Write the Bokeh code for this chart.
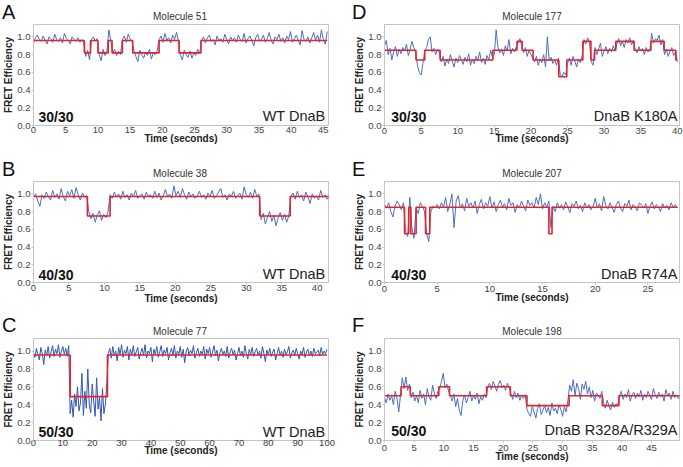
import numpy as np
from bokeh.plotting import figure
from bokeh.layouts import column, row
from bokeh.models import Label, FixedTicker, Range1d, PrintfTickFormatter
from bokeh.embed import file_html
from bokeh.resources import INLINE

# ---------------- data ----------------
y_ticks = [0.0, 0.2, 0.4, 0.6, 0.8, 1.0]

# Panel A  (Molecule 51, WT DnaB, 30/30)
a_dt = 0.3
a_fret = [.93,.99,1.02,.97,.95,1.01,.96,.92,1.0,.98,.94,1.03,.97,.95,.99,.93,1.04,.98,.96,.92,1.0,.97,.95,.99,.94,.97,.93,
          .78,.85,.74,
          .97,1.0,.95,.98,
          .80,.73,.86,.79,.84,
          1.08,.96,
          .82,.86,.79,.84,.80,
          .97,1.01,.94,1.03,.98,.95,
          .84,.78,.72,.85,.80,.76,.83,.79,.86,.75,.82,.80,.84,
          .97,1.01,.94,1.04,.96,.99,.93,1.02,.97,1.05,.95,
          .79,.74,.85,.80,.77,.84,.76,.82,.79,.86,.81,
          .96,1.0,.93,.99,1.02,.95,.97,.91,1.01,.96,.98,.94,1.03,.97,.92,1.0,.96,.99,.94,1.02,.97,.95,1.04,.93,
          .98,1.01,.96,.90,.99,1.03,.95,.97,1.02,.94,.98,1.05,.96,.92,1.0,.97,1.03,.95,.99,.93,1.01,.97,1.06,.94,
          .98,1.02,.96,.91,1.07,.97,.95,1.0,.93,.99,1.05,.96,1.02,.94,1.08,.97,.92,1.06]
a_step_t = [0, 7.9, 8.85, 10.0, 11.6, 12.2, 13.8, 15.4, 19.5, 22.6, 26.0, 45.6]
a_step_v = [.96, .82, .96, .82, .96, .82, .96, .82, .96, .82, .96]
a_xticks = [0, 5, 10, 15, 20, 25, 30, 35, 40, 45]

# Panel B  (Molecule 38, WT DnaB, 40/30)
b_dt = 0.3
b_fret = [.97,1.0,.92,.86,.99,.95,1.02,.97,.93,1.04,.96,1.0,.94,1.06,.97,.92,1.03,.98,1.05,.95,1.07,.99,.93,1.01,.96,.98,
          .80,.72,.78,.68,.76,.81,.70,.77,.73,.79,
          .99,.95,1.02,.97,1.0,.94,1.03,.96,.99,.93,1.01,.97,1.04,.95,.98,1.0,.94,1.02,.97,.99,
          .95,1.03,.96,1.01,.93,.98,1.05,.97,1.0,.95,1.09,.98,1.03,.96,1.06,.99,.94,1.02,.97,1.0,
          .95,.98,1.03,.96,.99,.94,1.01,.97,1.04,.95,.98,1.02,1.06,.96,.99,.93,1.0,.97,1.03,.95,
          .98,1.01,.94,1.08,.99,.96,1.02,.95,1.05,.97,1.0,
          .71,.78,.66,.74,.80,.69,.76,.64,.73,.79,.70,.77,.68,.75,
          .97,1.01,.94,1.03,.96,.99,.92,1.02,.97,.89,1.0,.95,.98,.93,1.04,.96,.99,.94,.97]
b_step_t = [0, 7.6, 10.8, 31.9, 36.2, 41.7]
b_step_v = [.97, .75, .97, .75, .97]
b_xticks = [0, 5, 10, 15, 20, 25, 30, 35, 40]

# Panel C  (Molecule 77, WT DnaB, 50/30)
c_dt = 0.5
c_fret = [.98,.93,1.03,.96,.90,1.04,.97,.85,1.01,.95,1.05,.92,.99,1.06,.94,1.02,.97,1.07,.93,1.0,1.05,.96,1.03,.94,1.06,
          .30,.45,.26,.52,.38,.60,.33,.42,.75,.28,.55,.36,.80,.40,.31,.63,.44,.27,.70,.35,.48,.22,.58,.30,.41,.65,
          .97,1.03,.92,1.05,.95,1.0,.89,1.04,.96,1.07,.93,1.01,.97,1.05,.90,1.02,.96,1.06,.94,.99,
          1.04,.91,.98,1.03,.95,1.07,.92,1.0,.97,1.04,.88,1.02,.96,1.05,.93,.99,1.06,.94,1.01,.97,
          1.04,.90,.98,1.03,.95,1.06,.92,1.0,.96,1.05,.93,1.02,.87,.99,1.04,.95,1.01,.97,1.06,.92,
          .98,1.03,.94,1.0,.96,1.05,.91,1.02,.97,1.04,.93,.99,1.06,.95,1.01,.89,.98,1.03,.96,1.0,
          .94,1.05,.92,.99,1.03,.96,1.01,.90,.97,1.04,.95,1.0,.93,1.06,.97,.91,1.02,.96,1.04,.94,
          .99,1.03,.95,1.0,.92,1.05,.97,.88,1.01,.96,1.03,.94,.99,1.02,.90,.97,1.04,.95,1.0,.93,
          1.02,.96,.99,1.05,.92,.98,1.01,.95,1.03,.97,.91,1.0,.96,1.04,.93,.99,1.02,.95,1.0,.94,
          1.03,.97,.99,1.01,.95,1.04,.96,1.0,.97,1.02]
c_step_t = [0, 12.5, 25.2, 100.0]
c_step_v = [.955, .49, .955]
c_xticks = [0, 10, 20, 30, 40, 50, 60, 70, 80, 90, 100]

# Panel D  (Molecule 177, DnaB K180A, 30/30)
d_dt = 0.25
d_fret = [.90,.96,.80,.87,.74,.83,.89,.78,.86,.81,.88,.84,.92,.79,.86,.95,.88,.82,
          .68,.60,.57,.70,
          .84,.88,.97,1.0,.83,.87,.80,.86,.82,
          .72,.78,.67,.75,.70,.80,.73,.66,.76,.71,.79,.74,.69,.77,.72,.81,.68,.75,.70,.78,.73,.83,.71,.76,.69,.79,.74,.85,.77,
          .80,1.08,.88,.82,.86,.79,.90,.84,.97,.81,.87,.83,.89,
          .93,.98,.90,
          .82,.88,.78,.85,.80,.76,
          .72,.78,.68,.75,.71,.80,.66,1.0,.73,.77,.70,.74,.68,.76,
          .58,.55,.60,.57,
          .70,.76,.68,.78,.73,.66,.75,.71,.79,
          .97,.92,.99,.94,
          .72,.68,
          .88,.80,.86,.93,.78,.84,.89,.81,.87,.83,.90,.85,
          .92,.98,.90,.95,.88,.97,.93,.99,.91,.96,
          .86,.82,.89,.84,.87,.80,.88,.83,.85,
          1.04,.93,.98,.96,1.02,.91,.97,
          .80,.86,.78,.84,.88,.79,.83,
          .72]
d_step_t = [0, 4.3, 5.5, 7.6, 14.8, 18.1, 18.8, 20.3, 23.8, 24.9, 27.1, 28.2, 28.7, 31.6, 34.1, 36.4, 38.2, 39.8, 40.0]
d_step_v = [.85, .74, .85, .74, .85, .95, .85, .74, .55, .74, .95, .74, .85, .95, .85, .95, .85, .74]
d_xticks = [0, 5, 10, 15, 20, 25, 30, 35, 40]

# Panel E  (Molecule 207, DnaB R74A, 40/30)
e_dt = 0.2
e_fret = [.88,.84,.90,.80,.74,.86,.92,.88,.82,.90,
          .58,.52,
          .96,
          .62,.50,
          .84,.78,.90,.86,.80,
          .55,.46,
          .80,.86,.84,.88,.83,.90,.85,.96,.80,.88,1.0,.62,.92,.98,.84,.89,.81,.95,.86,.90,
          .84,.92,.78,.88,.94,.83,.90,.86,.97,.84,.91,.80,.88,.93,.85,.89,.82,.95,.87,.90,
          .79,.88,.84,.92,.86,.81,.93,.87,.90,.84,.96,.88,1.0,.83,.90,.85,.92,
          .62,
          .86,.80,.90,.84,.88,.82,.91,.85,.79,.89,.86,.92,.83,.87,.80,.90,.84,.88,.82,.86,
          .95,.84,.89,.81,.97,.87,.83,.90,.85,.79,.88,.92,.84,.80,.89,.86,.93,.82,.88,.85,
          .81,.90,.87,.84,.89,.78,.86,.91,.83,.88,.85,.80,.89,.84,.87,.82,.90,.85,.88,.84]
e_step_t = [0, 1.9, 2.3, 2.5, 3.0, 3.9, 4.3, 15.6, 15.9, 27.8]
e_step_v = [.85, .55, .85, .55, .85, .55, .85, .55, .85]
e_xticks = [0, 5, 10, 15, 20, 25]

# Panel F  (Molecule 198, DnaB R328A/R329A, 50/30)
f_dt = 0.3
f_fret = [.48,.42,.52,.45,.50,.40,.55,.47,.32,.51,
          .70,.58,.71,.56,.63,
          .48,.54,.44,.50,.42,.56,.47,.52,.40,.58,.49,.45,.62,.53,.47,.55,
          .58,.66,.75,.59,.63,.55,
          .50,.44,.52,.38,.47,.34,.28,.45,.51,.42,.48,.55,.44,.50,.46,.53,.41,.49,.45,.52,.48,
          .60,.64,.57,.66,.61,.55,.63,.67,.59,.62,.56,.64,.60,
          .52,.46,.55,.48,.53,.45,.50,.47,.51,
          .35,.30,.27,.38,.32,.25,.36,.41,.29,.34,.39,.31,.37,.28,.42,.33,.36,.30,.40,.35,.27,.38,.32,.45,
          .62,.55,.68,.50,.64,.58,.46,.63,.57,.66,.52,.60,.48,.56,.44,.53,.50,.47,.55,
          .42,.36,.45,.39,.34,.43,.37,.41,.40,
          .50,.55,.46,.52,.48,.57,.44,.51,.54,.47,.53,.49,.56,.45,.52,.48,.55,.50,.46,.58,
          .51,.47,.54,.49,.52,.44,.57,.50,.53,.46,.55,.48,.51,.47,.50]
f_step_t = [0, 2.8, 4.35, 9.15, 10.96, 17.2, 21.2, 24.0, 31.1, 36.7, 39.5, 49.8]
f_step_v = [.5, .6, .5, .6, .5, .6, .5, .39, .5, .39, .5]
f_xticks = [0, 5, 10, 15, 20, 25, 30, 35, 40, 45]

# ---------------- styling / layout ----------------
FONT = "Liberation Sans"
BLUE = "#4a6fc4"
RED = "#e4232c"
GRAY = "#c4c4c4"
W_TOTAL = 683

COLS = {
    "L": dict(width=342, bl=31, br=14, name_dx=5),
    "R": dict(width=341, bl=42, br=4, name_dx=2),
}
ROWS = {
    1: dict(height=134, bt=1, bb=32),
    2: dict(height=132, bt=1, bb=30),
    3: dict(height=130, bt=1, bb=27),
}


def panel(fret, dt, step_t, step_v, xmax, xticks, ratio, name, col, rw,
          lab_so, axlab_so, txt_dx, txt_y, color=BLUE):
    c = COLS[col]
    r = ROWS[rw]
    fw = c["width"] - c["bl"] - c["br"]
    p = figure(width=c["width"], height=r["height"], output_backend="svg",
               toolbar_location=None, tools="", title=None, frame_align=False,
               x_range=Range1d(0, xmax), y_range=Range1d(0, 1.14),
               min_border_left=c["bl"], min_border_right=c["br"],
               min_border_top=r["bt"], min_border_bottom=r["bb"])
    p.outline_line_color = GRAY
    p.outline_line_width = 1
    p.background_fill_color = "white"
    p.border_fill_color = "white"
    p.xgrid.visible = False
    p.ygrid.visible = False

    for ax in (p.xaxis[0], p.yaxis[0]):
        ax.axis_line_color = GRAY
        ax.major_tick_line_color = GRAY
        ax.minor_tick_line_color = None
        ax.major_tick_in = 0
        ax.major_tick_out = 2
        ax.major_label_text_font = FONT
        ax.major_label_text_font_size = "9.5px"
        ax.major_label_text_color = "#444444"
        ax.axis_label_text_font = FONT
        ax.axis_label_text_font_size = "10px"
        ax.axis_label_text_font_style = "bold"
        ax.axis_label_text_color = "#222222"
    xa = p.xaxis[0]
    xa.ticker = FixedTicker(ticks=xticks)
    xa.formatter = PrintfTickFormatter(format="%d")
    xa.major_label_standoff = lab_so
    xa.axis_label = "Time (seconds)"
    xa.axis_label_standoff = axlab_so
    ya = p.yaxis[0]
    ya.ticker = FixedTicker(ticks=y_ticks)
    ya.formatter = PrintfTickFormatter(format="%.1f")
    ya.major_label_standoff = 1
    ya.axis_label = "FRET Efficiency"
    ya.axis_label_standoff = 0

    t = np.arange(len(fret)) * dt
    p.line(t, fret, line_color=color, line_width=1)
    sx = list(step_t)
    sy = list(step_v) + [step_v[-1]]
    p.step(sx, sy, mode="after", line_color=RED, line_width=1.6)

    # labels are placed by the visual centre of the capitals (baseline + half cap height)
    p.add_layout(Label(x=txt_dx, y=txt_y + 5.0, x_units="screen", y_units="screen", text=ratio,
                       text_font=FONT, text_font_size="14px", text_font_style="bold",
                       text_color="#111111", text_align="left", text_baseline="middle"))
    p.add_layout(Label(x=fw - c["name_dx"], y=txt_y + 5.2, x_units="screen", y_units="screen",
                       text=name, text_font=FONT, text_font_size="14.5px",
                       text_color="#222222", text_align="right", text_baseline="middle"))
    return p


def strip(height, items):
    # items: (x from left, visual centre y from top, text, size, align, color)
    s = figure(width=W_TOTAL, height=height, output_backend="svg", toolbar_location=None,
               tools="", title=None, frame_align=False,
               x_range=Range1d(0, W_TOTAL), y_range=Range1d(0, height),
               x_axis_type=None, y_axis_type=None, min_border=0)
    s.outline_line_color = None
    s.background_fill_color = "white"
    s.border_fill_color = "white"
    for x, y, text, size, align, color in items:
        s.add_layout(Label(x=x, y=height - y, text=text, text_font=FONT, text_font_size=size,
                           text_align=align, text_baseline="middle", text_color=color))
    return s


LX, RX = 179.5, 531.5
LET = "20px"
s1 = strip(23, [(1.5, 11.5, "A", LET, "left", "#111111"),
                (LX, 16.0, "Molecule 51", "10px", "center", "#333333"),
                (351.5, 11.5, "D", LET, "left", "#111111"),
                (RX, 16.0, "Molecule 177", "10px", "center", "#333333")])
s2 = strip(23, [(1.5, 11.5, "B", LET, "left", "#111111"),
                (LX, 16.0, "Molecule 38", "10px", "center", "#333333"),
                (351.5, 11.5, "E", LET, "left", "#111111"),
                (RX, 16.0, "Molecule 207", "10px", "center", "#333333")])
s3 = strip(25, [(1.5, 12.0, "C", LET, "left", "#111111"),
                (LX, 18.5, "Molecule 77", "10px", "center", "#333333"),
                (351.5, 12.0, "F", LET, "left", "#111111"),
                (RX, 18.5, "Molecule 198", "10px", "center", "#333333")])

pA = panel(a_fret, a_dt, a_step_t, a_step_v, 45.8, a_xticks, "30/30", "WT DnaB", "L", 1,
           -1, -3, 5, 4)
pB = panel(b_fret, b_dt, b_step_t, b_step_v, 41.6, b_xticks, "40/30", "WT DnaB", "L", 2,
           0, -1, 5, 3)
pC = panel(c_fret, c_dt, c_step_t, c_step_v, 100.5, c_xticks, "50/30", "WT DnaB", "L", 3,
           -3, -4, 5, 3.4, color="#3356b0")
pD = panel(d_fret, d_dt, d_step_t, d_step_v, 40.3, d_xticks, "30/30", "DnaB K180A", "R", 1,
           0, -4, 6.7, 4)
pE = panel(e_fret, e_dt, e_step_t, e_step_v, 28.0, e_xticks, "40/30", "DnaB R74A", "R", 2,
           1, -3, 6.7, 3)
pF = panel(f_fret, f_dt, f_step_t, f_step_v, 49.7, f_xticks, "50/30", "DnaB R328A/R329A", "R", 3,
           2, -3, 6.7, 5)

layout = column(s1, row(pA, pD), s2, row(pB, pE), s3, row(pC, pF))
open("out.html", "w").write(file_html(layout, INLINE))
